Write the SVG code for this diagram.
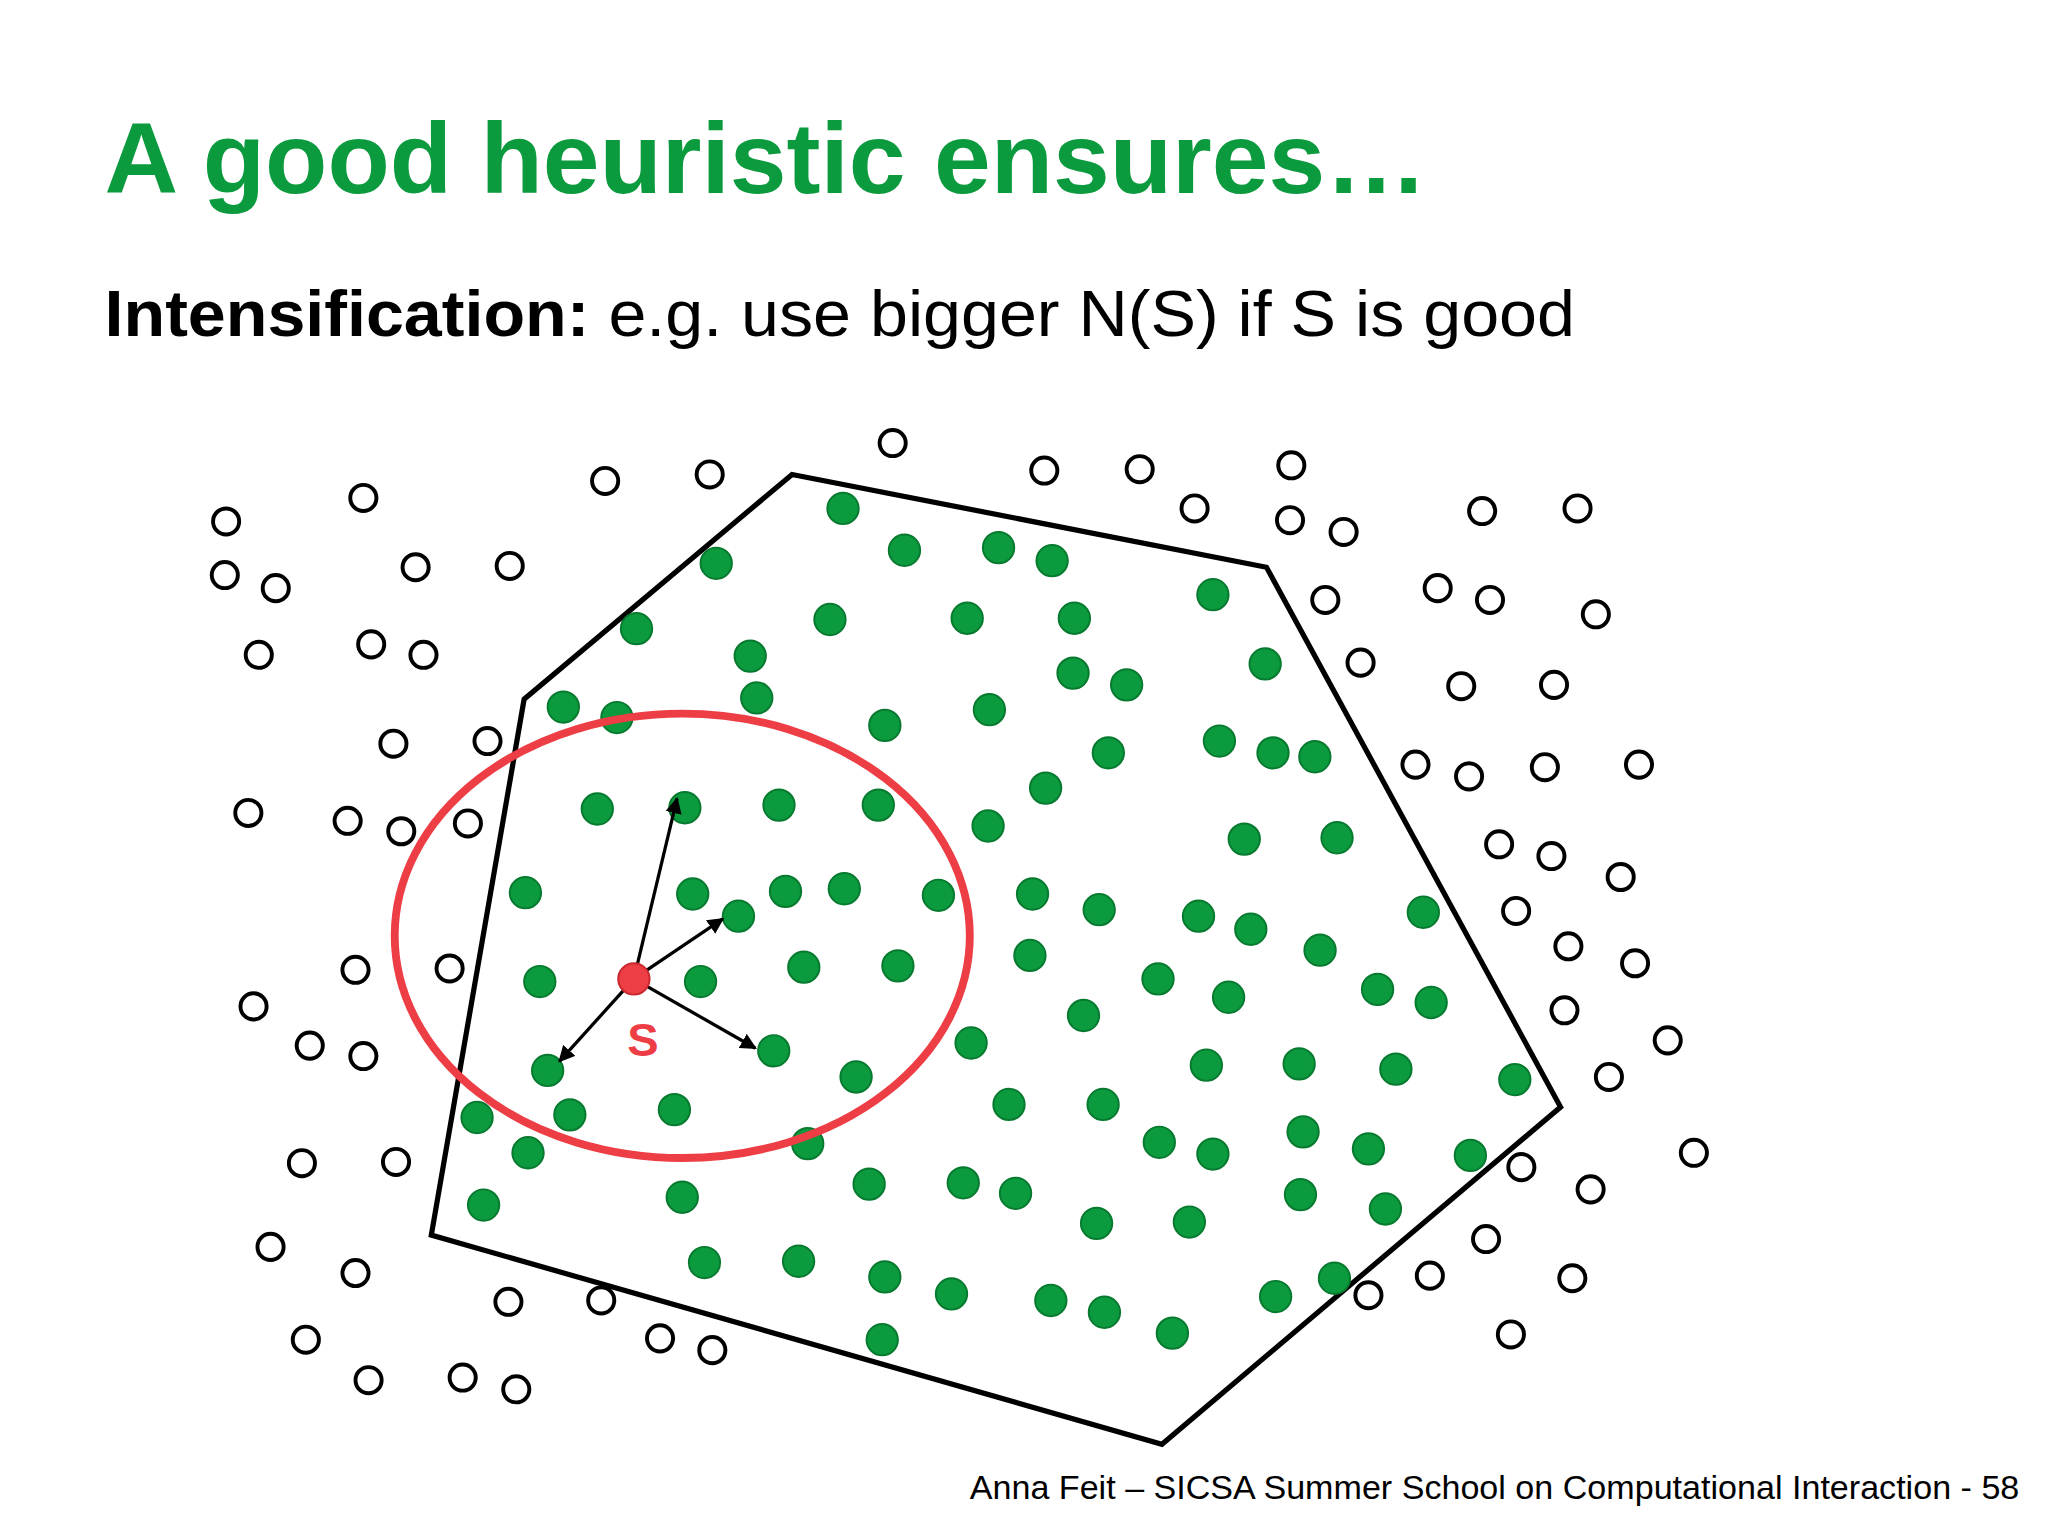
<svg xmlns="http://www.w3.org/2000/svg" xmlns:xlink="http://www.w3.org/1999/xlink" width="2048" height="1536" viewBox="0 0 2048 1536">
<style>
.t{font-family:"Liberation Sans",Arial,sans-serif}
.g{fill:#0b9a3e;stroke:#077a2f;stroke-width:1.5}
.h{fill:#fff;stroke:#000;stroke-width:3}
.a{stroke:#000;stroke-width:2.5;fill:none;marker-end:url(#ar)}
</style>
<defs>
<marker id="ar" viewBox="0 0 10 10" refX="9" refY="5" markerWidth="5" markerHeight="5" orient="auto"><path d="M0,0L10,5L0,10z" fill="#000"/></marker>
<circle id="G" r="12" class="g"/>
<circle id="H" r="10" class="h"/>
</defs>
<rect width="2048" height="1536" fill="#fff"/>
<g transform="scale(1.307)">
<text class="t" x="80" y="148" font-size="76" font-weight="bold" fill="#0b9a3e" textLength="1012" lengthAdjust="spacingAndGlyphs">A good heuristic ensures…</text>
<text class="t" x="80" y="257" font-size="50" fill="#000" textLength="1125" lengthAdjust="spacingAndGlyphs"><tspan font-weight="bold">Intensification:</tspan> e.g. use bigger N(S) if S is good</text>
<text class="t" x="742" y="1147" font-size="26" fill="#000" textLength="803" lengthAdjust="spacingAndGlyphs">Anna Feit – SICSA Summer School on Computational Interaction - 58</text>
<g id="region"><polygon points="606,363 969,434 1194,847 889,1105 330,945 401,535" fill="none" stroke="#000" stroke-width="4"/></g>
<g id="hollow">
<use href="#H" x="683" y="339"/><use href="#H" x="463" y="368"/><use href="#H" x="543" y="363"/><use href="#H" x="799" y="360"/><use href="#H" x="872" y="359"/><use href="#H" x="988" y="356"/><use href="#H" x="173" y="399"/><use href="#H" x="278" y="381"/><use href="#H" x="914" y="389"/><use href="#H" x="987" y="398"/><use href="#H" x="1028" y="407"/><use href="#H" x="1134" y="391"/><use href="#H" x="1207" y="389"/><use href="#H" x="172" y="440"/><use href="#H" x="211" y="450"/><use href="#H" x="318" y="434"/><use href="#H" x="390" y="433"/><use href="#H" x="1014" y="459"/><use href="#H" x="1100" y="450"/><use href="#H" x="1140" y="459"/><use href="#H" x="1221" y="470"/><use href="#H" x="198" y="501"/><use href="#H" x="284" y="493"/><use href="#H" x="324" y="501"/><use href="#H" x="1041" y="507"/><use href="#H" x="1118" y="525"/><use href="#H" x="1189" y="524"/><use href="#H" x="301" y="569"/><use href="#H" x="373" y="567"/><use href="#H" x="1083" y="585"/><use href="#H" x="1124" y="594"/><use href="#H" x="1182" y="587"/><use href="#H" x="1254" y="585"/><use href="#H" x="190" y="622"/><use href="#H" x="266" y="628"/><use href="#H" x="307" y="636"/><use href="#H" x="358" y="630"/><use href="#H" x="1147" y="646"/><use href="#H" x="1187" y="655"/><use href="#H" x="1240" y="671"/><use href="#H" x="1160" y="697"/><use href="#H" x="1200" y="724"/><use href="#H" x="1251" y="737"/><use href="#H" x="272" y="742"/><use href="#H" x="344" y="741"/><use href="#H" x="194" y="770"/><use href="#H" x="1197" y="773"/><use href="#H" x="237" y="800"/><use href="#H" x="278" y="808"/><use href="#H" x="1276" y="796"/><use href="#H" x="1231" y="824"/><use href="#H" x="231" y="890"/><use href="#H" x="303" y="889"/><use href="#H" x="1296" y="882"/><use href="#H" x="1164" y="893"/><use href="#H" x="1217" y="910"/><use href="#H" x="207" y="954"/><use href="#H" x="272" y="974"/><use href="#H" x="389" y="996"/><use href="#H" x="460" y="995"/><use href="#H" x="1137" y="948"/><use href="#H" x="1094" y="976"/><use href="#H" x="1047" y="991"/><use href="#H" x="1203" y="978"/><use href="#H" x="234" y="1025"/><use href="#H" x="505" y="1024"/><use href="#H" x="545" y="1033"/><use href="#H" x="282" y="1056"/><use href="#H" x="354" y="1054"/><use href="#H" x="395" y="1063"/><use href="#H" x="1156" y="1021"/>
</g>
<g id="green">
<use href="#G" x="645" y="389"/><use href="#G" x="692" y="421"/><use href="#G" x="764" y="419"/><use href="#G" x="805" y="429"/><use href="#G" x="548" y="431"/><use href="#G" x="487" y="481"/><use href="#G" x="635" y="474"/><use href="#G" x="740" y="473"/><use href="#G" x="822" y="473"/><use href="#G" x="928" y="455"/><use href="#G" x="574" y="502"/><use href="#G" x="821" y="515"/><use href="#G" x="862" y="524"/><use href="#G" x="968" y="508"/><use href="#G" x="431" y="541"/><use href="#G" x="472" y="549"/><use href="#G" x="579" y="534"/><use href="#G" x="677" y="555"/><use href="#G" x="757" y="543"/><use href="#G" x="848" y="576"/><use href="#G" x="933" y="567"/><use href="#G" x="974" y="576"/><use href="#G" x="1006" y="579"/><use href="#G" x="800" y="603"/><use href="#G" x="457" y="619"/><use href="#G" x="524" y="618"/><use href="#G" x="596" y="616"/><use href="#G" x="672" y="616"/><use href="#G" x="756" y="632"/><use href="#G" x="952" y="642"/><use href="#G" x="1023" y="641"/><use href="#G" x="402" y="683"/><use href="#G" x="530" y="684"/><use href="#G" x="601" y="682"/><use href="#G" x="646" y="680"/><use href="#G" x="718" y="685"/><use href="#G" x="565" y="701"/><use href="#G" x="790" y="684"/><use href="#G" x="841" y="696"/><use href="#G" x="917" y="701"/><use href="#G" x="957" y="711"/><use href="#G" x="1089" y="698"/><use href="#G" x="788" y="731"/><use href="#G" x="1010" y="727"/><use href="#G" x="413" y="751"/><use href="#G" x="536" y="751"/><use href="#G" x="615" y="740"/><use href="#G" x="687" y="739"/><use href="#G" x="886" y="749"/><use href="#G" x="940" y="763"/><use href="#G" x="1054" y="757"/><use href="#G" x="1095" y="767"/><use href="#G" x="829" y="777"/><use href="#G" x="592" y="804"/><use href="#G" x="743" y="798"/><use href="#G" x="419" y="819"/><use href="#G" x="655" y="824"/><use href="#G" x="923" y="815"/><use href="#G" x="994" y="814"/><use href="#G" x="1068" y="818"/><use href="#G" x="1159" y="826"/><use href="#G" x="772" y="845"/><use href="#G" x="844" y="845"/><use href="#G" x="365" y="855"/><use href="#G" x="436" y="853"/><use href="#G" x="516" y="849"/><use href="#G" x="618" y="875"/><use href="#G" x="887" y="874"/><use href="#G" x="928" y="883"/><use href="#G" x="997" y="866"/><use href="#G" x="1047" y="879"/><use href="#G" x="1125" y="884"/><use href="#G" x="404" y="882"/><use href="#G" x="665" y="906"/><use href="#G" x="737" y="905"/><use href="#G" x="777" y="913"/><use href="#G" x="522" y="916"/><use href="#G" x="839" y="936"/><use href="#G" x="910" y="935"/><use href="#G" x="995" y="914"/><use href="#G" x="1060" y="925"/><use href="#G" x="370" y="922"/><use href="#G" x="539" y="966"/><use href="#G" x="611" y="965"/><use href="#G" x="677" y="977"/><use href="#G" x="728" y="990"/><use href="#G" x="804" y="995"/><use href="#G" x="845" y="1004"/><use href="#G" x="976" y="992"/><use href="#G" x="1021" y="978"/><use href="#G" x="675" y="1025"/><use href="#G" x="897" y="1020"/>
</g>
<g id="neighborhood"><ellipse cx="522" cy="716" rx="220" ry="170" fill="none" stroke="#ee3e45" stroke-width="6"/></g>
<g id="connectors">
<line class="a" x1="485" y1="749" x2="518" y2="611"/>
<line class="a" x1="485" y1="749" x2="553" y2="703"/>
<line class="a" x1="485" y1="749" x2="428" y2="812"/>
<line class="a" x1="485" y1="749" x2="578" y2="802"/>
</g>
<g id="S"><circle cx="485" cy="749" r="12" fill="#ee3e45" stroke="#c8282e" stroke-width="1.5"/>
<text class="t" x="492" y="808" font-size="36" font-weight="bold" fill="#ee3e45" text-anchor="middle">S</text></g>
</g>
</svg>
